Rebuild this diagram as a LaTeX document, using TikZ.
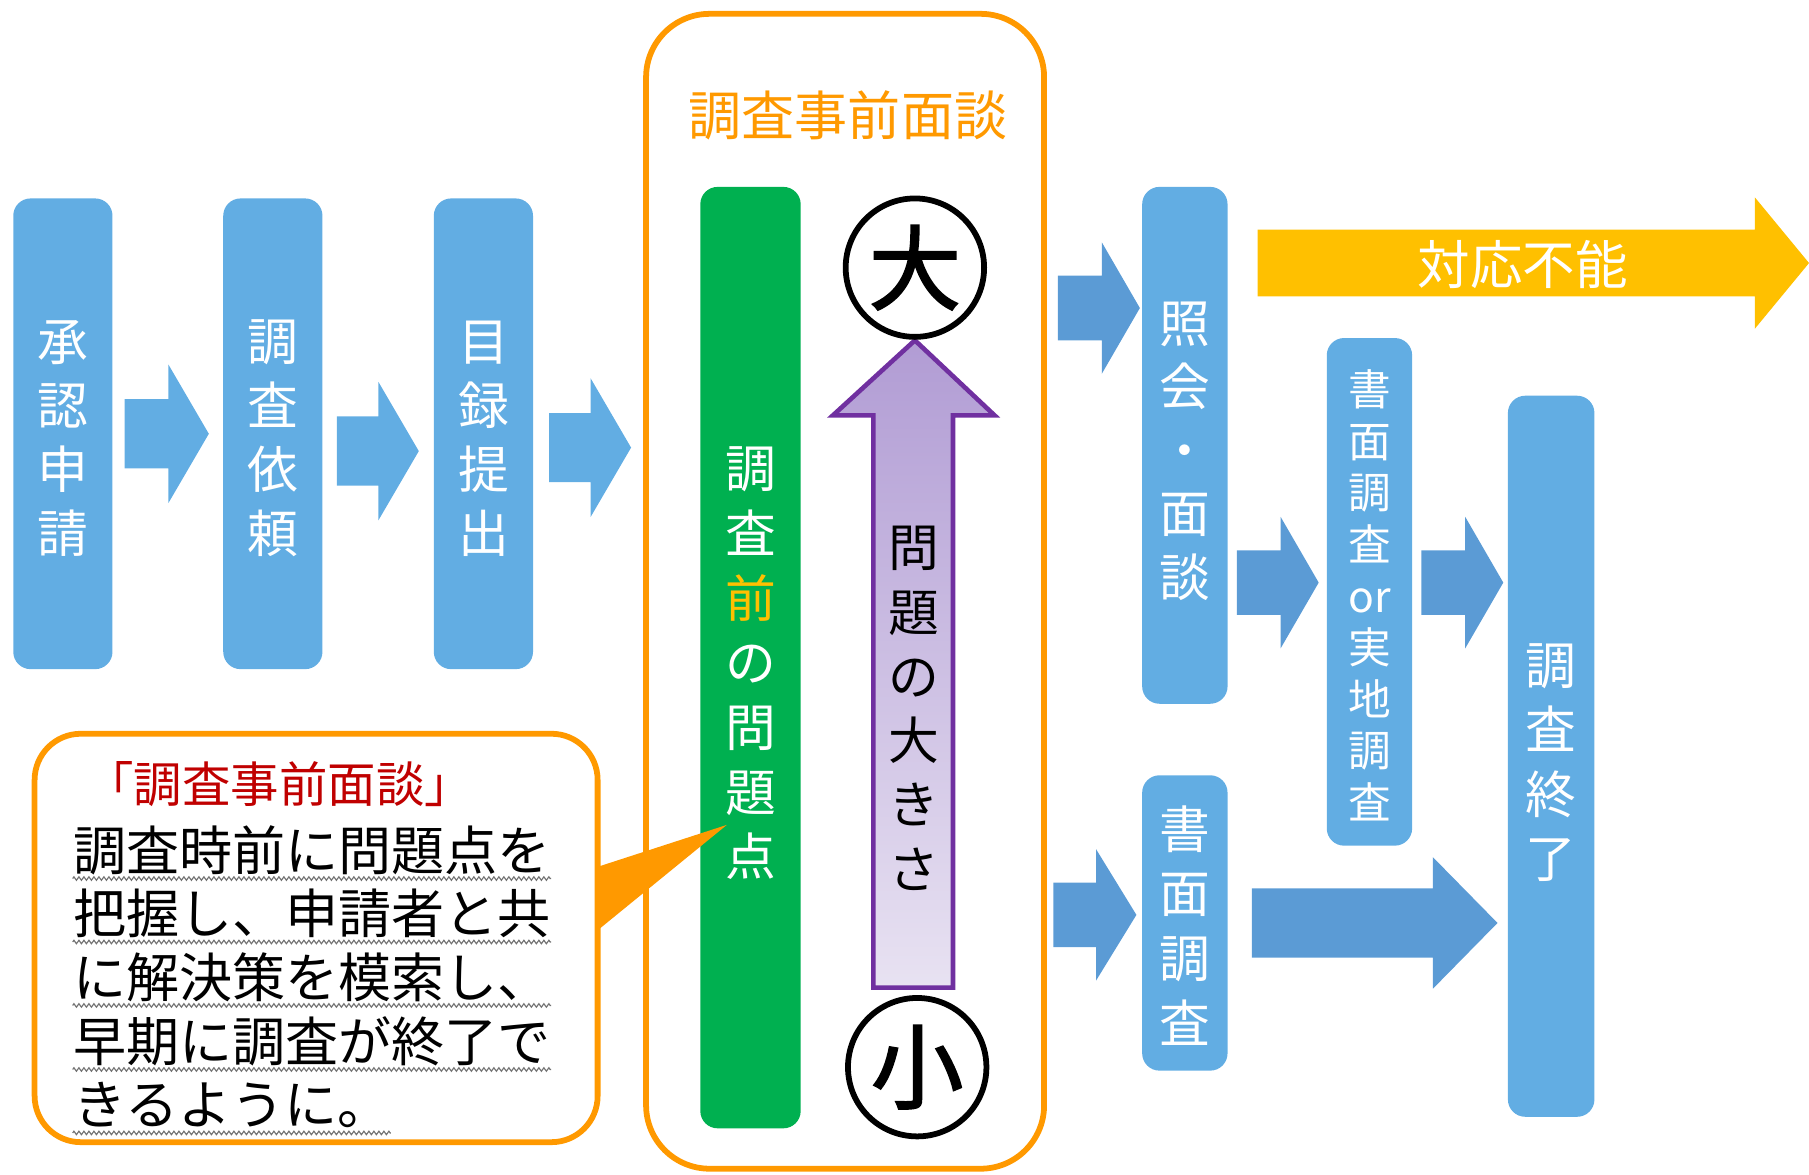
\documentclass[tikz,border=0pt]{standalone}
\usepackage{fontspec}
\newfontfamily\jp{Noto Sans CJK JP}
\newfontfamily\jpb[FakeBold=2]{Noto Sans CJK JP}
\usetikzlibrary{decorations.pathmorphing}
\definecolor{boxblue}{RGB}{98,173,227}
\definecolor{arrblue}{RGB}{91,155,213}
\definecolor{frameor}{RGB}{255,153,0}
\definecolor{grn}{RGB}{0,176,80}
\definecolor{yel}{RGB}{255,192,0}
\definecolor{purp}{RGB}{112,48,160}
\definecolor{purpTop}{RGB}{177,156,212}
\definecolor{purpBot}{RGB}{232,226,242}
\definecolor{redtxt}{RGB}{192,0,0}
% #1 colour, #2 start x, #3 head start x, #4 tip x, #5 centre y, #6 shaft half height, #7 head half height
\newcommand\blockarrow[7]{\fill[#1] (#2,{#5-#6}) -- (#3,{#5-#6}) -- (#3,{#5-#7}) -- (#4,#5) -- (#3,{#5+#7}) -- (#3,{#5+#6}) -- (#2,{#5+#6}) -- cycle;}
\begin{document}
\begin{tikzpicture}[x=0.6pt,y=-0.6pt,font=\jp,
  vbox/.style={fill=boxblue, rounded corners=9pt, inner sep=0pt},
  vtext/.style={align=center, inner sep=0pt, font=\jp\fontsize{26.4}{33.4}\selectfont},
  wtext/.style={vtext, text=white},
  ring/.style={circle, draw=black, line width=3pt, minimum size=72pt, inner sep=0pt,
    font=\jpb\fontsize{48}{48}\selectfont},
  cline/.style={anchor=base west, inner sep=0pt, font=\jp\fontsize{27.6}{30}\selectfont},
  wavy/.style={draw=black!55, line width=0.6pt, decorate,
    decoration={zigzag, segment length=2.6pt, amplitude=0.9pt}}]
\useasboundingbox (0,0) rectangle (1568,1018);

% left chain
\node[vbox, minimum width=51.6pt, minimum height=244.8pt] (b1) at (54.5,376) {};
\node[vbox, minimum width=51.6pt, minimum height=244.8pt] (b2) at (236.5,376) {};
\node[vbox, minimum width=51.6pt, minimum height=244.8pt] (b3) at (419,376) {};
\node[wtext, font=\jp\fontsize{26.4}{33.3}\selectfont] (b1t) at (54.5,380) {承\\認\\申\\請};
\node[wtext, font=\jp\fontsize{26.4}{33.3}\selectfont] (b2t) at (236.5,380) {調\\査\\依\\頼};
\node[wtext, font=\jp\fontsize{26.4}{33.3}\selectfont] (b3t) at (419,380) {目\\録\\提\\出};
\blockarrow{boxblue}{108}{146}{181}{376}{30}{60}
\blockarrow{boxblue}{292}{328}{363}{391}{30}{60}
\blockarrow{boxblue}{476}{512}{547}{388}{30}{60}

% pre-survey interview frame
\node[draw=frameor, line width=3pt, rounded corners=33pt, minimum width=207pt, minimum height=600.6pt, inner sep=0pt] (frame) at (732.5,512.5) {};
\node[text=frameor, inner sep=0pt, font=\jp\fontsize{27.6}{30}\selectfont] (title) at (735,100) {調査事前面談};
\node[vbox, fill=grn, minimum width=52.2pt, minimum height=489.6pt] (green) at (650.5,570) {};
\node[wtext, font=\jp\fontsize{26.4}{33.6}\selectfont] (greent) at (650.5,575) {調\\査\\\textcolor{yel}{前}\\の\\問\\題\\点};
\shadedraw[top color=purpTop, bottom color=purpBot, draw=purp, line width=2.4pt, line join=miter]
  (793,295) -- (862,360) -- (826,360) -- (826,856) -- (757,856) -- (757,360) -- (722,360) -- cycle;
\node[vtext] (size) at (792,614) {問\\題\\の\\大\\き\\さ};
\node[ring] (big) at (793,232) {大};
\node[ring] (small) at (795,925) {小};

% callout
\node[draw=frameor, line width=3pt, fill=white, rounded corners=24pt, minimum width=292.8pt, minimum height=212.4pt, inner sep=0pt] (callout) at (274,813) {};
\coordinate (ctip) at (630,715);
\fill[frameor] (516,752) -- (ctip) -- (516,808) -- cycle;
\node[text=redtxt, inner sep=0pt, font=\jp\fontsize{25.2}{30}\selectfont] (ctitle) at (242,680) {「調査事前面談」};
\node[cline] (l1) at (63,754.5) {調査時前に問題点を};
\node[cline] (l2) at (63,809.5) {把握し、申請者と共};
\node[cline] (l3) at (63,864.5) {に解決策を模索し、};
\node[cline] (l4) at (63,920) {早期に調査が終了で};
\node[cline] (l5) at (63,975) {きるように。};
\foreach \l in {l1,l2,l3,l4,l5}
  \draw[wavy] ([yshift=-4.2pt]\l.base west) -- ([yshift=-4.2pt]\l.base east);

% right side
\blockarrow{arrblue}{917}{955}{988}{267}{28}{57}
\node[vbox, minimum width=44.4pt, minimum height=268.8pt] (inq) at (1027,386) {};
\node[wtext, font=\jp\fontsize{26.4}{33}\selectfont] (inqt) at (1027,391) {照\\会\\・\\面\\談};
\blockarrow{yel}{1090}{1521}{1568}{228}{29}{57}
\node[text=white, inner sep=0pt, font=\jp\fontsize{27.3}{30}\selectfont] (ng) at (1320,229) {対応不能};
\blockarrow{arrblue}{1072}{1110}{1143}{505}{28}{57}
\node[vbox, minimum width=44.4pt, minimum height=264pt] (both) at (1187,513) {};
\node[wtext, font=\jp\fontsize{22.2}{26.8}\selectfont] (botht) at (1187,516) {書\\面\\調\\査\\or\\実\\地\\調\\査};
\blockarrow{arrblue}{1232}{1270}{1303}{505}{28}{57}
\node[vbox, minimum width=45pt, minimum height=375pt] (end) at (1344.5,655.5) {};
\node[wtext, font=\jp\fontsize{26.4}{33.6}\selectfont] (endt) at (1344.5,661) {調\\査\\終\\了};
\blockarrow{arrblue}{913}{950}{985}{793}{28}{57}
\node[vbox, minimum width=44.4pt, minimum height=153.6pt] (doc) at (1027,800) {};
\node[wtext, font=\jp\fontsize{26.4}{33.6}\selectfont] (doct) at (1027,802) {書\\面\\調\\査};
\blockarrow{arrblue}{1085}{1242}{1298}{800}{30}{57}
\end{tikzpicture}
\end{document}
